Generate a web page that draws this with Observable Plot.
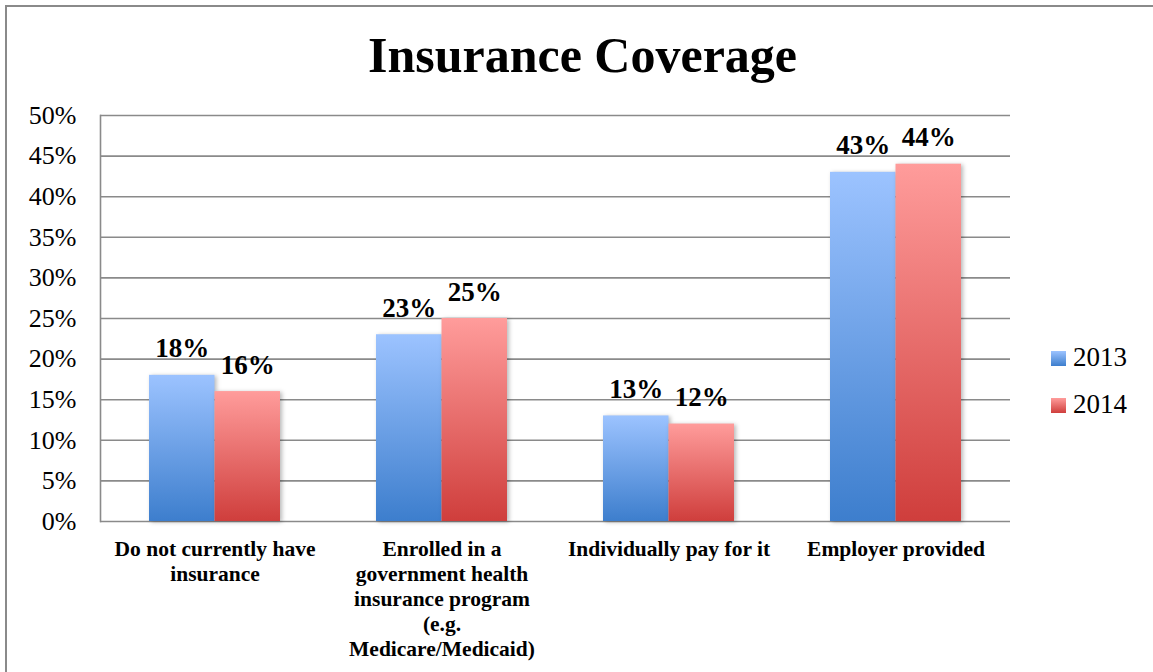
<!DOCTYPE html>
<html>
<head>
<meta charset="utf-8">
<script src="https://cdn.jsdelivr.net/npm/d3@7"></script>
<script src="https://cdn.jsdelivr.net/npm/@observablehq/plot@0.6"></script>
<style>
  html, body { margin: 0; padding: 0; background: #fff; }
  #chart { position: relative; width: 1153px; height: 672px; overflow: hidden; font-family: "Liberation Serif", serif; }
  #border { position: absolute; left: 5px; top: 5px; width: 1200px; height: 800px; border: 2px solid #8a8a8a; box-sizing: border-box; }
  #title { position: absolute; left: 0; width: 1165px; top: 30px; text-align: center; font-size: 50px; line-height: 50px; font-weight: bold; color: #000; }
  #plot { position: absolute; left: 0; top: 100px; }
  #legend { position: absolute; left: 1051px; top: 344px; font-size: 27px; line-height: 27px; color: #000; }
  .item { position: absolute; left: 0; white-space: nowrap; }
  .sw { position: absolute; left: 0; width: 15px; height: 15px; }
  .lab { position: absolute; left: 22px; }
  g[aria-label="bar"] rect { filter: drop-shadow(2px 1px 2px rgba(0,0,0,0.28)); }
</style>
</head>
<body>
<div id="chart">
  <div id="border"></div>
  <div id="title">Insurance Coverage</div>
  <div id="plot"></div>
  <div id="legend"></div>
</div>
<script>
const categories = ["Do not currently have insurance", "Enrolled in a government health insurance program (e.g. Medicare/Medicaid)", "Individually pay for it", "Employer provided"];
const categoryLabels = ["Do not currently have\ninsurance", "Enrolled in a\ngovernment health\ninsurance program\n(e.g.\nMedicare/Medicaid)", "Individually pay for it", "Employer provided"];
const years = ["2013", "2014"];
const values2013 = [18, 23, 13, 43];
const values2014 = [16, 25, 12, 44];
const yTicks = [0, 5, 10, 15, 20, 25, 30, 35, 40, 45, 50];

const gradColors = {
  "2013": ["#9cc3ff", "#3d7ecd"],
  "2014": ["#ff9c9b", "#cf3e3c"]
};

const data2013 = categories.map((c, i) => ({category: c, year: "2013", value: values2013[i]}));
const data2014 = categories.map((c, i) => ({category: c, year: "2014", value: values2014[i]}));

const W = 1153, H = 571, mL = 100, mR = 143, mT = 15, mB = 150;
const pIn = 0.424, pOut = 0.212;
const step = (W - mL - mR) / (categories.length - pIn + 2 * pOut);
const bw = step * (1 - pIn);
const labelOf = new Map(categories.map((c, i) => [c, categoryLabels[i]]));

const plot = Plot.plot({
  width: W, height: H,
  marginLeft: mL, marginRight: mR, marginTop: mT, marginBottom: mB,
  style: {fontFamily: "Liberation Serif, serif", color: "#000", background: "transparent"},
  x: {domain: categories, paddingInner: pIn, paddingOuter: pOut, label: null},
  y: {domain: [0, 50], label: null},
  marks: [
    Plot.ruleY(yTicks, {stroke: "#8a8a8a", strokeWidth: 1.6}),
    Plot.frame({anchor: "left", stroke: "#8a8a8a", strokeWidth: 1.6}),
    Plot.barY(data2013, {x: "category", y: "value", fill: "url(#grad2013)", insetRight: bw / 2}),
    Plot.barY(data2014, {x: "category", y: "value", fill: "url(#grad2014)", insetLeft: bw / 2}),
    Plot.text(data2013, {x: "category", y: "value", text: d => d.value + "%", dx: -bw / 4, dy: -18, lineAnchor: "bottom", fontSize: 27, fontWeight: "bold"}),
    Plot.text(data2014, {x: "category", y: "value", text: d => d.value + "%", dx: bw / 4, dy: -18, lineAnchor: "bottom", fontSize: 27, fontWeight: "bold"}),
    Plot.axisY({ticks: yTicks, tickFormat: d => d + "%", tickSize: 0, tickPadding: 24, fontSize: 26, label: null}),
    Plot.axisX({tickFormat: d => labelOf.get(d), tickSize: 0, tickPadding: 17, fontSize: 21.5, fontWeight: "bold", lineHeight: 1.165, label: null})
  ]
});

const svg = d3.select(plot);
const defs = svg.insert("defs", ":first-child");
for (const y of years) {
  const g = defs.append("linearGradient").attr("id", "grad" + y).attr("x1", 0).attr("y1", 0).attr("x2", 0).attr("y2", 1);
  g.append("stop").attr("offset", "0%").attr("stop-color", gradColors[y][0]);
  g.append("stop").attr("offset", "100%").attr("stop-color", gradColors[y][1]);
}
document.getElementById("plot").appendChild(plot);

const legend = d3.select("#legend");
years.forEach((y, i) => {
  const item = legend.append("div").attr("class", "item").style("top", (i * 47) + "px");
  item.append("div").attr("class", "sw").style("top", "7px")
    .style("background", `linear-gradient(${gradColors[y][0]}, ${gradColors[y][1]})`);
  item.append("div").attr("class", "lab").text(y);
});
</script>
</body>
</html>
